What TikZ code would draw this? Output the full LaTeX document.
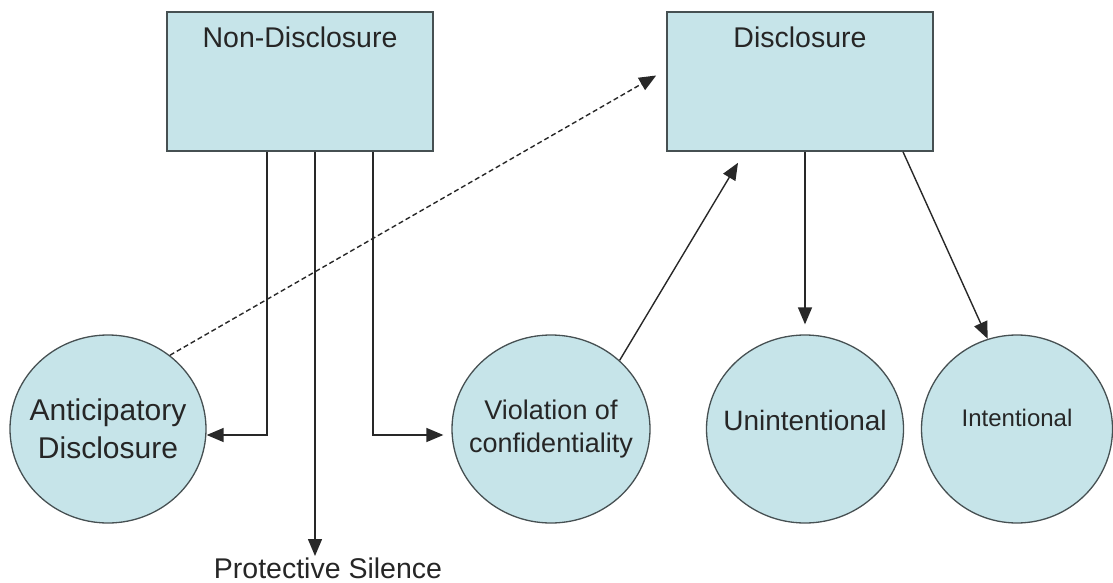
\documentclass[tikz,border=0pt]{standalone}
\usepackage{fontspec}
\setmainfont{Liberation Sans}
\usetikzlibrary{arrows.meta,shapes.geometric}
\definecolor{fillblue}{RGB}{198,228,233}
\definecolor{edgegray}{RGB}{70,80,82}
\definecolor{linegray}{RGB}{40,40,40}
\newcommand{\zw}[1]{\makebox[0pt][c]{#1}}
\tikzset{
  box/.style={draw=edgegray,line width=1.6pt,fill=fillblue,rectangle,minimum width=266pt,minimum height=139pt,inner sep=0pt},
  boxtext/.style={font=\fontsize{28.5}{30}\selectfont,text=black!85},
  oval/.style={draw=edgegray,line width=1.3pt,fill=fillblue,ellipse,minimum width=196pt,minimum height=188pt,inner sep=0pt,align=center,text=black!85},
  conn/.style={draw=linegray,line width=1.4pt,-{Triangle[length=17pt,width=14pt]}},
  dconn/.style={draw=linegray,line width=1.4pt,dash pattern=on 5pt off 3pt,-{Triangle[length=17pt,width=14pt]}},
}
\begin{document}
\begin{tikzpicture}[x=1pt,y=-1pt]
\useasboundingbox (0,0) rectangle (1113,583);
\node[box] (nd) at (300,81.5) {};
\node[boxtext,anchor=center] (ndt) at (300,37) {Non-Disclosure};
\node[box] (dn) at (800,81.5) {};
\node[boxtext,anchor=center] (dnt) at (800,37) {Disclosure};
\node[oval,font=\fontsize{30}{38}\selectfont] (ad) at (108,429) {\zw{Anticipatory}\\\zw{Disclosure}};
\node[oval,font=\fontsize{27}{33}\selectfont,minimum width=198pt] (vc) at (551,429) {\zw{Violation of}\\\zw{confidentiality}};
\node[oval,font=\fontsize{28}{30}\selectfont,minimum width=197pt] (un) at (805,429) {\raisebox{-1pt}[0pt][0pt]{\zw{Unintentional}}};
\node[oval,font=\fontsize{24}{28}\selectfont,minimum width=191pt] (in) at (1017,429) {\raisebox{2.5pt}[0pt][0pt]{\zw{Intentional}}};
\node[font=\fontsize{28.5}{30}\selectfont,text=black!85] (ps) at (328,568) {Protective Silence};
\draw[conn] ([xshift=-33pt]nd.south) |- ([yshift=-6pt]ad.east);
\draw[conn] ([xshift=15pt]nd.south) -- ([xshift=15pt,yshift=-2pt]nd.south |- ps.north);
\draw[conn] ([xshift=73pt]nd.south) |- ([xshift=-8pt,yshift=-6pt]vc.west);
\draw[dconn] (ad.50) -- ([xshift=-10pt,yshift=6pt]dn.west);
\draw[conn] (vc.45) -- ([xshift=-62pt,yshift=-11pt]dn.south);
\draw[conn] (dn.south -| un.north) -- ([yshift=10pt]un.north);
\draw[conn] ([xshift=103pt]dn.south) -- (in.108);
\end{tikzpicture}
\end{document}
